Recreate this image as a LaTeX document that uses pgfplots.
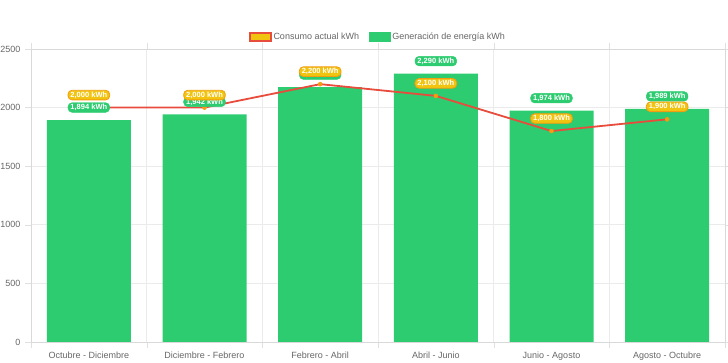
\documentclass[border=0pt]{standalone}
\usepackage{fontspec}
\setmainfont{Liberation Sans}
\usepackage{pgfplots}
\usepackage{pgfplotstable}
\pgfplotsset{compat=1.18}
\definecolor{verde}{HTML}{2ECC71}
\definecolor{amarillo}{HTML}{F1C40F}
\definecolor{rojo}{HTML}{E74C3C}
\definecolor{naranja}{HTML}{F39C12}
\definecolor{tickc}{HTML}{666666}
\pgfplotstableread{
x gen con
0 1894 2000
1 1942 2000
2 2175 2200
3 2290 2100
4 1974 1800
5 1989 1900
}\datos
\begin{document}
\begin{tikzpicture}
\begin{axis}[name=ax,
  scale only axis, width=694pt, height=293pt,
  xmin=-0.5, xmax=5.5, ymin=0, ymax=2500,
  ytick={0,500,...,2500},
  axis line style={draw=black!15},
  ymajorgrids, xmajorgrids, grid style={draw=black!8, line width=0.6pt},
  tick align=outside, major tick length=6pt, tick style={draw=black!12},
  xtick={-0.5,0.5,...,5.5}, xticklabels={},
  extra x ticks={0,1,2,3,4,5},
  extra x tick labels={Octubre - Diciembre, Diciembre - Febrero, Febrero - Abril, Abril - Junio, Junio - Agosto, Agosto - Octubre},
  extra x tick style={grid=none, major tick length=0pt, xticklabel style={yshift=-6pt}},
  ticklabel style={font=\fontsize{9}{10}\selectfont, text=tickc},
  /pgf/number format/assume math mode=true,
  yticklabel style={/pgf/number format/1000 sep={}, xshift=-1pt},
  clip=false,
  legend style={at={(0.5,1)}, anchor=center, yshift=12pt, draw=none, fill=none,
    font=\fontsize{9}{10}\selectfont, text=tickc,
    /tikz/every even column/.append style={column sep=8pt}},
  legend columns=2, legend cell align=left,
]
\addplot[ybar, bar width=84pt, fill=verde, draw=none, forget plot] table[x=x,y=gen]{\datos};
\addplot[rojo, line width=1.8pt, mark=*, mark size=2pt, mark options={fill=naranja, draw=naranja, line width=0.5pt}, forget plot] table[x=x,y=con]{\datos};
\addplot[draw=none, mark=none, forget plot,
  nodes near coords={\pgfmathprintnumber[fixed, precision=0, 1000 sep={,}]{\pgfplotspointmeta}~kWh},
  nodes near coords style={anchor=center, yshift=12.5pt, fill=verde, draw=verde, text=white,
    font=\bfseries\fontsize{7.5}{8}\selectfont, rounded corners=4pt, inner xsep=2.5pt, inner ysep=1.5pt}]
  table[x=x,y=gen]{\datos};
\addplot[draw=none, mark=none, forget plot,
  nodes near coords={\pgfmathprintnumber[fixed, precision=0, 1000 sep={,}]{\pgfplotspointmeta}~kWh},
  nodes near coords style={anchor=center, yshift=12.5pt, fill=amarillo, draw=naranja, line width=0.8pt, text=white,
    font=\bfseries\fontsize{7.5}{8}\selectfont, rounded corners=4pt, inner xsep=2.5pt, inner ysep=1.5pt}]
  table[x=x,y=con]{\datos};
\addlegendimage{legend image code/.code={\draw[fill=amarillo, draw=rojo, line width=1.5pt] (0pt,-4pt) rectangle (21pt,4pt);}}
\addlegendentry{Consumo actual kWh}
\addlegendimage{legend image code/.code={\fill[verde] (0pt,-4.5pt) rectangle (21pt,4.5pt);}}
\addlegendentry{Generación de energía kWh}
\end{axis}
\pgfresetboundingbox
\path ([xshift=-31pt,yshift=-21pt]ax.south west) rectangle ([xshift=3pt,yshift=49pt]ax.north east);
\end{tikzpicture}
\end{document}
